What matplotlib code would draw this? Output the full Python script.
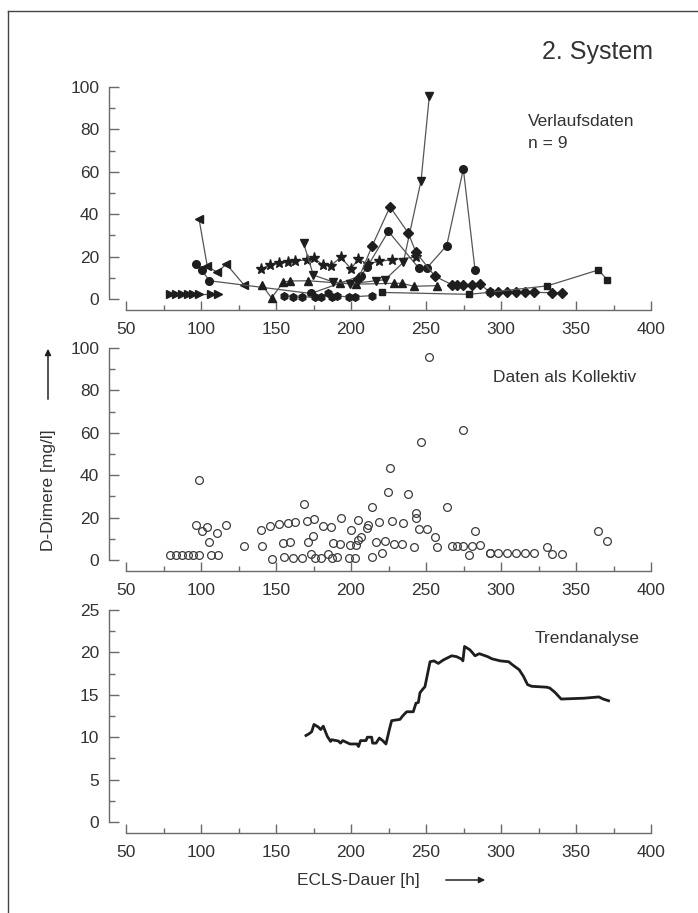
import matplotlib
matplotlib.use("Agg")
import matplotlib.pyplot as plt
from matplotlib.lines import Line2D
from matplotlib.patches import FancyArrowPatch
from matplotlib.ticker import MultipleLocator

plt.rcParams['font.family'] = ['Liberation Sans', 'DejaVu Sans']

# ---------------- data: individual courses (top panel) ----------------
s_rtri_x = [79, 83.3, 87.6, 91.3, 94.9, 98.7, 106.4, 111.6]
s_rtri_y = [2.3, 2.3, 2.3, 2.3, 2.3, 2.3, 2.3, 2.3]

s_ltri_x = [98.7, 104.2, 110.9, 116.9, 128.7]
s_ltri_y = [37.7, 15.4, 12.6, 16.5, 6.6]

s_circ_x = [96.4, 100.4, 105.6, 173.3, 206.7, 210.9, 224.9, 245.3, 250.4, 263.8, 274.9, 282.7]
s_circ_y = [16.5, 13.7, 8.6, 2.6, 11.0, 15.2, 31.9, 14.5, 14.5, 25.2, 61.3, 13.7]

s_hex_x = [155.6, 161.1, 167.1, 176.0, 179.8, 184.9, 187.1, 190.4, 198.9, 202.7, 214.2]
s_hex_y = [1.6, 1.1, 0.8, 1.1, 0.8, 2.7, 1.1, 1.6, 0.8, 1.1, 1.6]

s_star_x = [140, 146, 152, 157.8, 162.7, 170.4, 175.3, 181.1, 186.7, 193.1, 200, 204.9,
            211, 218.9, 227.1, 243.3]
s_star_y = [14.2, 16.0, 16.8, 17.3, 18.1, 18.4, 19.5, 16.0, 15.8, 19.7, 14.3, 18.8,
            16.5, 17.8, 18.5, 19.8]

s_tup_x = [140.7, 147, 154.9, 159.3, 171.6, 192.7, 203.3, 228.9, 233.8, 242, 257.5]
s_tup_y = [6.6, 0.5, 8.0, 8.5, 8.6, 7.5, 7.0, 7.4, 7.4, 6.0, 6.3]

s_tdn_x = [168.4, 174.9, 188.2, 199.3, 216.7, 222.7, 234.9, 246.7, 252.2]
s_tdn_y = [26.3, 11.3, 8.0, 7.2, 8.6, 9.1, 17.3, 55.8, 95.6]

s_dia_x = [204.9, 214.2, 226, 238.2, 243.3, 256, 267.1, 270.4, 274.4, 280.4, 286,
           292.7, 297.8, 303.8, 310, 316, 322.2, 334.2, 340.4]
s_dia_y = [9.4, 25.2, 43.5, 31.1, 22.0, 10.7, 6.8, 6.8, 6.8, 6.6, 7.1,
           3.1, 3.1, 3.1, 3.1, 3.1, 3.1, 3.0, 3.0]

s_sq_x = [220.4, 278.9, 292.7, 330.9, 364.9, 370.9]
s_sq_y = [3.1, 2.2, 3.2, 6.2, 13.7, 9.0]

# ---------------- data: trend analysis (bottom panel) ----------------
trend_x = [170, 172, 173.8, 175.3, 178.2, 179.8, 181.5, 184.2, 186.4, 187.1, 191.6, 193,
           194.5, 199.3, 204, 205, 206.4, 210, 210.9, 213.8, 214.4, 216.7, 218.9, 221.1,
           223.3, 225.5, 227.1, 232.7, 234.4, 237.1, 241.5, 243.3, 244.9, 246, 247.8,
           249.3, 252.7, 255.3, 258.2, 261.5, 267.1, 270.4, 273.8, 274.6, 275.7, 279.3,
           282.7, 285.5, 291.1, 293.9, 299.5, 305.1, 307.9, 312.1, 314.9, 317.7, 320.5,
           330.3, 332.5, 335.9, 340.1, 355.5, 365.3, 368.1, 371.7]
trend_y = [10.2, 10.4, 10.65, 11.5, 11.2, 10.9, 11.3, 10.1, 9.5, 9.7, 9.55, 9.3,
           9.6, 9.2, 9.2, 8.9, 9.6, 9.6, 10.0, 10.0, 9.3, 9.3, 9.9, 9.6,
           9.2, 10.85, 11.95, 12.1, 12.5, 13.0, 13.0, 14.0, 14.1, 15.25, 15.65,
           15.96, 18.9, 19.0, 18.7, 19.1, 19.6, 19.5, 19.2, 19.0, 20.7, 20.3,
           19.6, 19.85, 19.5, 19.25, 19.0, 18.9, 18.5, 17.96, 17.2, 16.2, 16.0,
           15.9, 15.8, 15.3, 14.5, 14.6, 14.75, 14.5, 14.3]

x_ticks = [50, 100, 150, 200, 250, 300, 350, 400]

series = [
    (s_rtri_x, s_rtri_y, '>'),
    (s_ltri_x, s_ltri_y, '<'),
    (s_circ_x, s_circ_y, 'o'),
    (s_hex_x, s_hex_y, 'h'),
    (s_star_x, s_star_y, '*'),
    (s_tup_x, s_tup_y, '^'),
    (s_tdn_x, s_tdn_y, 'v'),
    (s_dia_x, s_dia_y, 'D'),
    (s_sq_x, s_sq_y, 's'),
]
marker_sizes = {'>': 5.5, '<': 5.5, 'o': 5.5, 'h': 5.5, '*': 8.0,
                '^': 5.5, 'v': 5.5, 'D': 5.0, 's': 5.0}

W, H = 698, 913
fig = plt.figure(figsize=(W / 100, H / 100), dpi=100)

AX_COL = '#6a6a6a'
TXT_COL = '#333333'
DATA_COL = '#1e1e1e'


def make_axes(top_px, bottom_px):
    left = 126 / W
    width = 525 / W
    ax = fig.add_axes([left, 1 - bottom_px / H, width, (bottom_px - top_px) / H])
    ax.set_facecolor('none')
    for s in ('top', 'right'):
        ax.spines[s].set_visible(False)
    ax.spines['left'].set_position(('outward', 12.2))
    ax.spines['bottom'].set_position(('outward', 7.9))
    for s in ('left', 'bottom'):
        ax.spines[s].set_color(AX_COL)
        ax.spines[s].set_linewidth(1.0)
    ax.set_xlim(50, 400)
    ax.set_xticks(x_ticks)
    ax.xaxis.set_minor_locator(MultipleLocator(25))
    ax.tick_params(axis='y', which='major', direction='in', length=7.5, width=1.0,
                   color=AX_COL, labelsize=12.5, labelcolor=TXT_COL, pad=7)
    ax.tick_params(axis='y', which='minor', direction='in', length=4, width=1.0,
                   color=AX_COL)
    ax.tick_params(axis='x', which='major', direction='in', length=6.5, width=1.0,
                   color=AX_COL, labelsize=12.5, labelcolor=TXT_COL, pad=9)
    ax.tick_params(axis='x', which='minor', direction='in', length=3.5, width=1.0,
                   color=AX_COL)
    return ax


# ---------- top panel ----------
ax1 = make_axes(87, 299)
ax1.set_ylim(0, 100)
ax1.yaxis.set_major_locator(MultipleLocator(20))
ax1.yaxis.set_minor_locator(MultipleLocator(10))
for xs, ys, m in series:
    ax1.plot(xs, ys, color='#555555', lw=0.9, marker=m, ms=marker_sizes[m],
             mfc=DATA_COL, mec=DATA_COL, clip_on=False, zorder=3)
fig.text(528 / W, 1 - 122 / H, 'Verlaufsdaten', fontsize=12.5, color=TXT_COL,
         ha='left', va='center')
fig.text(528 / W, 1 - 143.5 / H, 'n = 9', fontsize=12.5, color=TXT_COL,
         ha='left', va='center')

# ---------- middle panel ----------
ax2 = make_axes(348, 560)
ax2.set_ylim(0, 100)
ax2.yaxis.set_major_locator(MultipleLocator(20))
ax2.yaxis.set_minor_locator(MultipleLocator(10))
all_x = []
all_y = []
for xs, ys, m in series:
    all_x.extend(xs)
    all_y.extend(ys)
ax2.plot(all_x, all_y, ls='none', marker='o', ms=5.6, mfc='none', mec='#3c3c3c',
         mew=0.9, clip_on=False)
fig.text(493 / W, 1 - 377 / H, 'Daten als Kollektiv', fontsize=12.5,
         color=TXT_COL, ha='left', va='center')

# ---------- bottom panel ----------
ax3 = make_axes(610, 822)
ax3.set_ylim(0, 25)
ax3.yaxis.set_major_locator(MultipleLocator(5))
ax3.yaxis.set_minor_locator(MultipleLocator(2.5))
ax3.plot(trend_x, trend_y, color=DATA_COL, lw=2.0, solid_joinstyle='round')
fig.text(535 / W, 1 - 638 / H, 'Trendanalyse', fontsize=12.5,
         color=TXT_COL, ha='left', va='center')

# ---------- figure texts ----------
fig.text(653 / W, 1 - 52 / H, '2. System', fontsize=18, color=TXT_COL,
         ha='right', va='center')
fig.text(48 / W, 1 - 490 / H, 'D-Dimere [mg/l]', fontsize=12.5, color=TXT_COL,
         rotation=90, ha='center', va='center')
fig.add_artist(FancyArrowPatch(
    (48 / W, 1 - 402 / H), (48 / W, 1 - 346 / H), transform=fig.transFigure,
    arrowstyle='-|>', mutation_scale=9, color='#222222', lw=1.1))
fig.text(358 / W, 1 - 880 / H, 'ECLS-Dauer [h]', fontsize=12.5, color=TXT_COL,
         ha='center', va='center')
fig.add_artist(FancyArrowPatch(
    (443 / W, 1 - 880 / H), (488 / W, 1 - 880 / H), transform=fig.transFigure,
    arrowstyle='-|>', mutation_scale=9, color='#222222', lw=1.1))

# frame (open at right/bottom as in the cropped reference)
fig.add_artist(Line2D([8 / W, 1], [1 - 11 / H, 1 - 11 / H], transform=fig.transFigure,
                      color='#444444', lw=1.0))
fig.add_artist(Line2D([8 / W, 8 / W], [0, 1 - 11 / H], transform=fig.transFigure,
                      color='#444444', lw=1.0))

fig.savefig('out.png', dpi=100, facecolor='white')
